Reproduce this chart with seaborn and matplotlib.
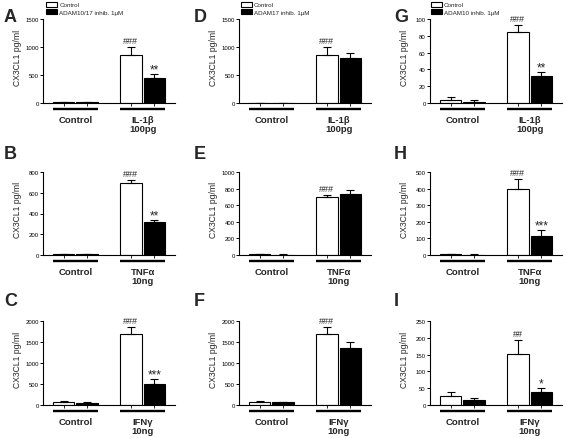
import numpy as np
import pandas as pd
import matplotlib
matplotlib.use("Agg")
import matplotlib.pyplot as plt
import matplotlib.transforms as mtransforms
import seaborn as sns
from matplotlib.patches import Patch

# ── Data ──────────────────────────────────────────────────────────────────────
STIMULI = ["IL-1β\n100pg", "TNFα\n10ng", "IFNγ\n10ng"]          # rows
INHIBITORS = ["ADAM10/17 inhib. 1μM", "ADAM17 inhib. 1μM", "ADAM10 inhib. 1μM"]  # columns

# each list: [Control group, stimulated group]
A_white, A_black = [10, 850], [10, 450]
A_white_err, A_black_err = [3, 150], [3, 70]
A_marks_w, A_marks_b = ["", "###"], ["", "**"]

B_white, B_black = [10, 690], [8, 320]
B_white_err, B_black_err = [3, 30], [3, 15]
B_marks_w, B_marks_b = ["", "###"], ["", "**"]

C_white, C_black = [75, 1690], [55, 500]
C_white_err, C_black_err = [15, 170], [10, 120]
C_marks_w, C_marks_b = ["", "###"], ["", "***"]

D_white, D_black = [5, 850], [5, 810]
D_white_err, D_black_err = [2, 150], [2, 75]
D_marks_w, D_marks_b = ["", "###"], ["", ""]

E_white, E_black = [8, 695], [5, 740]
E_white_err, E_black_err = [2, 25], [2, 45]
E_marks_w, E_marks_b = ["", "###"], ["", ""]

F_white, F_black = [80, 1690], [65, 1350]
F_white_err, F_black_err = [10, 160], [15, 160]
F_marks_w, F_marks_b = ["", "###"], ["", ""]

G_white, G_black = [4, 84], [1.5, 32]
G_white_err, G_black_err = [3.5, 9], [2, 5]
G_marks_w, G_marks_b = ["", "###"], ["", "**"]

H_white, H_black = [5, 400], [3, 115]
H_white_err, H_black_err = [1, 60], [1, 35]
H_marks_w, H_marks_b = ["", "###"], ["", "***"]

I_white, I_black = [27, 152], [14, 40]
I_white_err, I_black_err = [13, 40], [6, 10]
I_marks_w, I_marks_b = ["", "##"], ["", "*"]

YTICKS = {
    "A": [0, 500, 1000, 1500], "B": [0, 200, 400, 600, 800], "C": [0, 500, 1000, 1500, 2000],
    "D": [0, 500, 1000, 1500], "E": [0, 200, 400, 600, 800, 1000], "F": [0, 500, 1000, 1500, 2000],
    "G": [0, 20, 40, 60, 80, 100], "H": [0, 100, 200, 300, 400, 500], "I": [0, 50, 100, 150, 200, 250],
}

PANELS = [
    # letter, row, col, white, black, white_err, black_err, marks_w, marks_b
    ("A", 0, 0, A_white, A_black, A_white_err, A_black_err, A_marks_w, A_marks_b),
    ("B", 1, 0, B_white, B_black, B_white_err, B_black_err, B_marks_w, B_marks_b),
    ("C", 2, 0, C_white, C_black, C_white_err, C_black_err, C_marks_w, C_marks_b),
    ("D", 0, 1, D_white, D_black, D_white_err, D_black_err, D_marks_w, D_marks_b),
    ("E", 1, 1, E_white, E_black, E_white_err, E_black_err, E_marks_w, E_marks_b),
    ("F", 2, 1, F_white, F_black, F_white_err, F_black_err, F_marks_w, F_marks_b),
    ("G", 0, 2, G_white, G_black, G_white_err, G_black_err, G_marks_w, G_marks_b),
    ("H", 1, 2, H_white, H_black, H_white_err, H_black_err, H_marks_w, H_marks_b),
    ("I", 2, 2, I_white, I_black, I_white_err, I_black_err, I_marks_w, I_marks_b),
]

# ── Layout (pixels in a 567x439 figure) ───────────────────────────────────────
W, H = 567, 439
COL_LEFT = [43, 239, 430]
AX_W = 132
ROW_TOP = [20, 173, 322]
ROW_BOT = [104, 256, 406]
LETTER_X = [4, 194, 394]
LETTER_BASE = [22, 159, 306]
LEGEND_X = [46, 241, 431]

sns.set_style("ticks")
plt.rcParams["font.family"] = ["Liberation Sans", "DejaVu Sans"]

fig = plt.figure(figsize=(W / 100, H / 100), dpi=100)

for letter, r, c, white, black, white_err, black_err, marks_w, marks_b in PANELS:
    ax = fig.add_axes([COL_LEFT[c] / W, 1 - ROW_BOT[r] / H, AX_W / W, (ROW_BOT[r] - ROW_TOP[r]) / H])
    stim = STIMULI[r]
    df = pd.DataFrame({
        "group": ["Control", stim] * 2,
        "condition": ["Control", "Control", "Inhib", "Inhib"],
        "value": white + black,
    })
    sns.barplot(data=df, x="group", y="value", hue="condition", palette=["white", "black"],
                saturation=1, edgecolor="black", linewidth=0.8, width=0.7, gap=0.08,
                errorbar=None, legend=False, ax=ax)
    bar_conts = list(ax.containers)

    centers = []
    for cont, errs, marks in zip(bar_conts, [white_err, black_err], [marks_w, marks_b]):
        for bar, e, m in zip(cont, errs, marks):
            x = bar.get_x() + bar.get_width() / 2
            h = bar.get_height()
            centers.append(x)
            ax.errorbar(x, h, yerr=[[0], [e]], color="black", capsize=3, elinewidth=0.8,
                        capthick=0.8, zorder=5)
            if m:
                fs = 6.5 if m.startswith("#") else 8.5
                dy = 1.5 if m.startswith("#") else -1
                ax.annotate(m, xy=(x, h + e), xytext=(0, dy), textcoords="offset points",
                            ha="center", va="bottom", fontsize=fs)

    # group underlines and labels
    trans = mtransforms.blended_transform_factory(ax.transData, ax.transAxes)
    for gi, name in enumerate(["Control", stim]):
        bars = [cont[gi] for cont in bar_conts]
        x0 = min(b.get_x() for b in bars)
        x1 = max(b.get_x() + b.get_width() for b in bars)
        ax.plot([x0, x1], [-0.068, -0.068], transform=trans, clip_on=False, color="black",
                lw=1.7, solid_capstyle="butt")
        ax.text((x0 + x1) / 2, -0.14, name, transform=trans, ha="center", va="top",
                fontsize=6.8, fontweight="bold", linespacing=1.05)

    yt = YTICKS[letter]
    ax.set_xlim(-0.48, 1.48)
    ax.set_ylim(0, yt[-1])
    ax.set_yticks(yt)
    ax.set_xticks(sorted(centers))
    ax.set_xticklabels([])
    ax.set_xlabel("")
    ax.set_ylabel("CX3CL1 pg/ml", fontsize=6.2, labelpad=1.5)
    ax.yaxis.set_label_coords(-0.16, 0.55)
    ax.tick_params(axis="y", labelsize=4.3, length=2, width=0.7, pad=1, colors="black")
    ax.tick_params(axis="x", length=2, width=0.7)
    for s in ["left", "bottom"]:
        ax.spines[s].set_linewidth(0.8)
        ax.spines[s].set_color("black")
    sns.despine(ax=ax)

    fig.text(LETTER_X[c] / W, 1 - LETTER_BASE[r] / H, letter, fontsize=13, fontweight="bold",
             ha="left", va="baseline")

    if r == 0:
        handles = [Patch(facecolor="white", edgecolor="black", linewidth=0.8),
                   Patch(facecolor="black", edgecolor="black", linewidth=0.8)]
        ax.legend(handles, ["Control", INHIBITORS[c]], loc="upper left",
                  bbox_to_anchor=(LEGEND_X[c] / W, 1 - 2.5 / H), bbox_transform=fig.transFigure,
                  fontsize=4.5, frameon=False, borderpad=0, borderaxespad=0,
                  handlelength=1.7, handleheight=0.9, handletextpad=0.4, labelspacing=0.3)

fig.savefig("out.png", dpi=100)
